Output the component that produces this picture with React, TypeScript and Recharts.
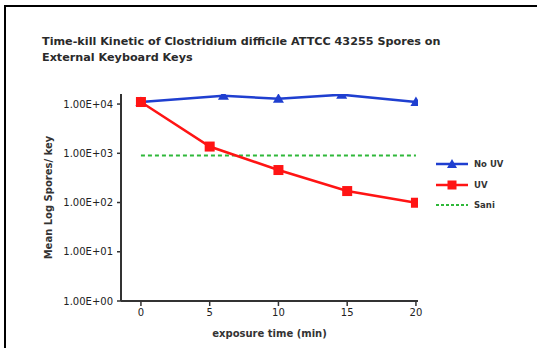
import { CartesianGrid, Legend, Line, LineChart, XAxis, YAxis } from "recharts";

const uvTimes = [0, 5, 10, 15, 20];
const uvCounts = [11000, 1370, 457, 171, 99];
const noUvTimes = [0, 6, 10, 14.6, 20];
const noUvCounts = [11000, 14700, 12800, 15500, 11000];
const saniTimes = [0, 20];
const saniCounts = [900, 900];

const xTicks = [0, 5, 10, 15, 20];
const yTicks = [1, 10, 100, 1000, 10000];

const BLUE = "#1f3fd0";
const RED = "#ff1414";
const GREEN = "#2fb83a";
const FONT = "'DejaVu Sans', Verdana, sans-serif";

const uvData = uvTimes.map((t, i) => ({ t, v: uvCounts[i] }));
const noUvData = noUvTimes.map((t, i) => ({ t, v: noUvCounts[i] }));
const saniData = saniTimes.map((t, i) => ({ t, v: saniCounts[i] }));

function formatSci(v: number): string {
  const exp = Math.round(Math.log10(v));
  const mant = (v / Math.pow(10, exp)).toFixed(2);
  const sign = exp < 0 ? "-" : "+";
  return `${mant}E${sign}${String(Math.abs(exp)).padStart(2, "0")}`;
}

function TriangleDot(props: any) {
  const { cx, cy } = props;
  if (cx == null || cy == null) return null;
  return <path d={`M${cx},${cy - 5.5} L${cx + 5.5},${cy + 4} L${cx - 5.5},${cy + 4} Z`} fill={BLUE} />;
}

function SquareDot(props: any) {
  const { cx, cy } = props;
  if (cx == null || cy == null) return null;
  return <rect x={cx - 5} y={cy - 5} width={10} height={10} fill={RED} />;
}

const legendItems = [
  { name: "No UV", color: BLUE, marker: "triangle" },
  { name: "UV", color: RED, marker: "square" },
  { name: "Sani", color: GREEN, marker: "none" },
];

function LegendBox() {
  return (
    <div style={{ fontFamily: FONT, fontSize: 8.5, fontWeight: "bold", color: "#333" }}>
      {legendItems.map((it) => (
        <div key={it.name} style={{ display: "flex", alignItems: "center", height: 20.5 }}>
          <svg width={34} height={12}>
            <line
              x1={1}
              x2={33}
              y1={6}
              y2={6}
              stroke={it.color}
              strokeWidth={it.marker === "none" ? 2 : 2.5}
              strokeDasharray={it.marker === "none" ? "3 2" : undefined}
            />
            {it.marker === "triangle" && <path d="M17,1 L22,10 L12,10 Z" fill={it.color} />}
            {it.marker === "square" && <rect x={12.5} y={1.5} width={9} height={9} fill={it.color} />}
          </svg>
          <span style={{ marginLeft: 5 }}>{it.name}</span>
        </div>
      ))}
    </div>
  );
}

export default function App() {
  return (
    <div
      style={{
        position: "absolute",
        left: 0,
        top: 0,
        width: 537,
        height: 348,
        background: "#fff",
        overflow: "hidden",
      }}
    >
      <div
        style={{
          position: "absolute",
          left: 4,
          top: 5,
          right: 0,
          bottom: 0,
          borderTop: "2px solid #000",
          borderLeft: "2px solid #000",
        }}
      />
      <div
        style={{
          position: "absolute",
          left: 42,
          top: 34,
          fontFamily: FONT,
          fontSize: 11.2,
          fontWeight: "bold",
          lineHeight: "16px",
          color: "#2a2a2a",
        }}
      >
        Time-kill Kinetic of Clostridium difficile ATTCC 43255 Spores on
        <br />
        External Keyboard Keys
      </div>
      <LineChart width={537} height={348} margin={{ top: 94, right: 119, bottom: 17, left: 61 }}>
        <CartesianGrid stroke="none" />
        <XAxis
          type="number"
          dataKey="t"
          domain={[-1.45, 20.15]}
          ticks={xTicks}
          allowDataOverflow
          height={30}
          tick={{ fontSize: 10, fill: "#222", fontFamily: FONT }}
          tickSize={5}
          tickMargin={3}
          tickLine={{ stroke: "#333", strokeWidth: 1.5 }}
          axisLine={{ stroke: "#333", strokeWidth: 2 }}
          label={{
            value: "exposure time (min)",
            position: "bottom",
            offset: -1,
            fontSize: 10,
            fontWeight: "bold",
            fill: "#333",
            fontFamily: FONT,
          }}
        />
        <YAxis
          type="number"
          scale="log"
          domain={[1, 16000]}
          ticks={yTicks}
          allowDataOverflow
          width={60}
          tickFormatter={formatSci}
          tick={{ fontSize: 10, fill: "#222", fontFamily: FONT }}
          tickSize={4}
          tickMargin={4}
          tickLine={{ stroke: "#333", strokeWidth: 1.5 }}
          axisLine={{ stroke: "#333", strokeWidth: 2 }}
          label={{
            value: "Mean Log Spores/ key",
            angle: -90,
            position: "insideLeft",
            offset: -13,
            fontSize: 10,
            fontWeight: "bold",
            fill: "#333",
            fontFamily: FONT,
            style: { textAnchor: "middle" },
          }}
        />
        <Line
          data={saniData}
          dataKey="v"
          stroke={GREEN}
          strokeWidth={2}
          strokeDasharray="4 3"
          dot={false}
          isAnimationActive={false}
          name="Sani"
        />
        <Line
          data={noUvData}
          dataKey="v"
          stroke={BLUE}
          strokeWidth={2.5}
          dot={<TriangleDot />}
          isAnimationActive={false}
          name="No UV"
        />
        <Line
          data={uvData}
          dataKey="v"
          stroke={RED}
          strokeWidth={2.5}
          dot={<SquareDot />}
          isAnimationActive={false}
          name="UV"
        />
        <Legend
          layout="horizontal"
          verticalAlign="middle"
          align="center"
          content={<LegendBox />}
          wrapperStyle={{ position: "absolute", left: 435, top: 154, width: 100 }}
        />
      </LineChart>
    </div>
  );
}
